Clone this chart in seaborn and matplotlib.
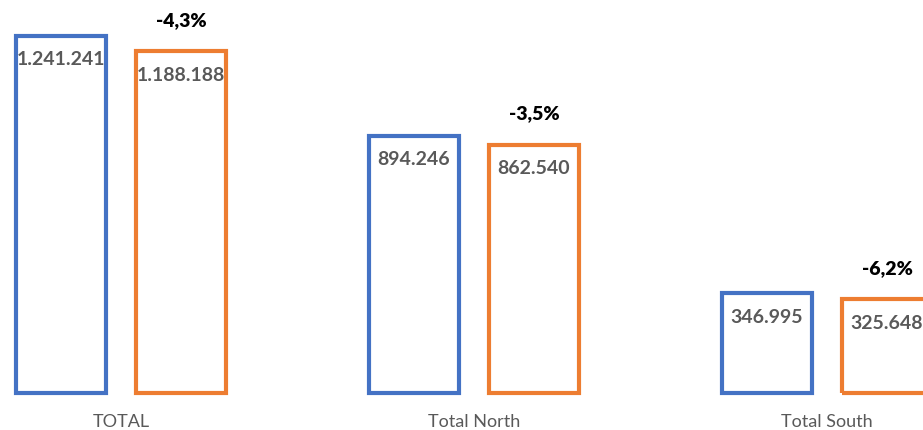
import pandas as pd
import matplotlib
matplotlib.use('Agg')
import matplotlib.pyplot as plt
import seaborn as sns

# data
regions = ['TOTAL', 'Total North', 'Total South']
previous = [1241241, 894246, 346995]
current = [1188188, 862540, 325648]
change_labels = ['-4,3%', '-3,5%', '-6,2%']
series = ['Previous', 'Current']
colors = ['#4472C4', '#ED7D31']

df = pd.DataFrame({
    'region': regions * 2,
    'value': previous + current,
    'series': [series[0]] * 3 + [series[1]] * 3,
})

sns.set_theme(style='white')
plt.rcParams['font.family'] = ['Lato', 'DejaVu Sans']

fig = plt.figure(figsize=(9.23, 4.31), dpi=100)
ax = fig.add_axes([0, 0, 1, 1])

sns.barplot(data=df, x='region', y='value', hue='series', order=regions,
            hue_order=series, palette=colors, fill=False, linewidth=3,
            width=0.68, gap=0.25, legend=False, ax=ax, errorbar=None)

ax.set_xlim(-0.343, 2.272)
ax.set_ylim(-128650, 1369900)
ax.axis('off')

label_grey = '#595959'

# value labels inside top of each bar
for cont in ax.containers:
    for bar in cont:
        v = bar.get_height()
        txt = f'{int(round(v)):,}'.replace(',', '.')
        ax.annotate(txt, (bar.get_x() + bar.get_width() / 2, v),
                    xytext=(0, -16.5), textcoords='offset points',
                    ha='center', va='center', fontsize=14,
                    fontweight='bold', color=label_grey)

# change labels above the current-period bars
for bar, lab in zip(ax.containers[1], change_labels):
    ax.annotate(lab, (bar.get_x() + bar.get_width() / 2, bar.get_height()),
                xytext=(0, 23), textcoords='offset points',
                ha='center', va='center', fontsize=14,
                fontweight='heavy', color='black')

# category labels under each group
for i, name in enumerate(regions):
    ax.annotate(name, (i, 0), xytext=(0, -20.5), textcoords='offset points',
                ha='center', va='center', fontsize=13, color=label_grey)

fig.savefig('out.png', dpi=100)
